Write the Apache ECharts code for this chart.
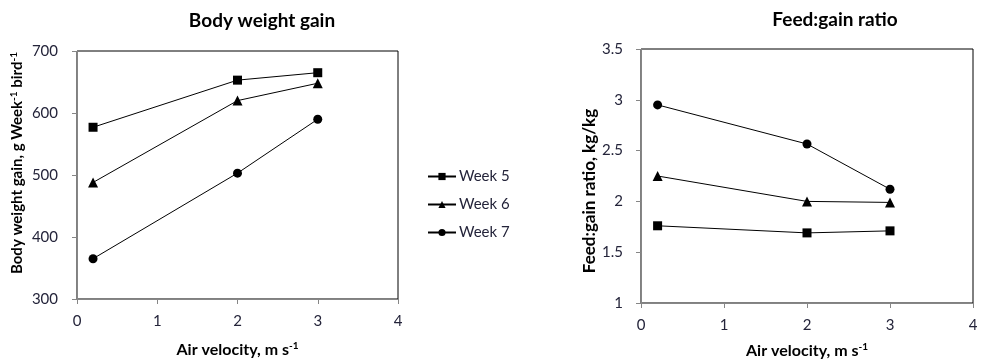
<!DOCTYPE html>
<html>
<head>
<meta charset="utf-8">
<script src="https://cdn.jsdelivr.net/npm/echarts@6/dist/echarts.min.js"></script>
<style>
  html, body { margin: 0; padding: 0; background: #fff; }
  #chart { width: 982px; height: 364px; }
</style>
</head>
<body>
<div id="chart"></div>
<script>
var velocity = [0.2, 2, 3];
var weightWeek5 = [577, 653, 665];
var weightWeek6 = [488, 620, 648];
var weightWeek7 = [365, 503, 590];
var ratioWeek5 = [1.76, 1.69, 1.71];
var ratioWeek6 = [2.25, 2.0, 1.99];
var ratioWeek7 = [2.95, 2.565, 2.12];
var weekNames = ['Week 5', 'Week 6', 'Week 7'];
var symbols = ['rect', 'triangle', 'circle'];
var symbolSizes = [9, 10, 9];

var fontName = 'Lato';
var textColor = '#24243a';

function pairs(ys) {
    var out = [];
    for (var i = 0; i < velocity.length; i++) {
        out.push([velocity[i], ys[i]]);
    }
    return out;
}

function makeSeries(name, ys, k, idx) {
    return {
        name: name,
        type: 'line',
        xAxisIndex: idx,
        yAxisIndex: idx,
        data: pairs(ys),
        symbol: symbols[k],
        symbolSize: symbolSizes[k],
        lineStyle: {color: '#000', width: 1},
        itemStyle: {color: '#000'},
        z: 3
    };
}

var supRich = {
    sup: {fontSize: 10, fontWeight: 'bold', fontFamily: fontName, color: '#000', verticalAlign: 'top', padding: [0, 0, 7, 0]}
};

function xAxisOpt(idx, gap) {
    return {
        type: 'value',
        gridIndex: idx,
        min: 0,
        max: 4,
        interval: 1,
        name: 'Air velocity, m s{sup|-1}',
        nameLocation: 'middle',
        nameGap: gap,
        nameTextStyle: {fontFamily: fontName, fontWeight: 'bold', fontSize: 16, color: '#000', rich: supRich},
        axisLine: {lineStyle: {color: '#868686'}},
        axisTick: {length: 5, lineStyle: {color: '#868686'}},
        axisLabel: {fontFamily: fontName, fontSize: 15, color: textColor, margin: 15},
        splitLine: {show: false}
    };
}

var option = {
    animation: false,
    title: [
        {text: 'Body weight gain', left: 257, top: 6, textAlign: 'center',
         textStyle: {fontFamily: fontName, fontWeight: 'bold', fontSize: 19, color: '#000'}},
        {text: 'Feed:gain ratio', left: 830, top: 5, textAlign: 'center',
         textStyle: {fontFamily: fontName, fontWeight: 'bold', fontSize: 19, color: '#000'}}
    ],
    legend: {
        data: weekNames,
        orient: 'vertical',
        left: 422,
        top: 164,
        itemWidth: 28,
        itemHeight: 9,
        itemGap: 13,
        textStyle: {fontFamily: fontName, fontSize: 15, color: textColor, padding: [0, 0, 0, -2]}
    },
    grid: [
        {left: 77, right: 584, top: 51, bottom: 65, show: true, borderColor: '#000', borderWidth: 1},
        {left: 641, right: 9, top: 49, bottom: 61, show: true, borderColor: '#000', borderWidth: 1}
    ],
    xAxis: [xAxisOpt(0, 42), xAxisOpt(1, 39)],
    yAxis: [
        {
            type: 'value',
            gridIndex: 0,
            min: 300,
            max: 700,
            interval: 100,
            name: 'Body weight gain, g Week{sup|-1} bird{sup|-1}',
            nameLocation: 'middle',
            nameGap: 51,
            nameTextStyle: {fontFamily: fontName, fontWeight: 'bold', fontSize: 15, color: '#000', rich: supRich, padding: [0, 0, 0, 24]},
            axisLine: {show: true, lineStyle: {color: '#868686'}},
            axisTick: {show: true, length: 5, lineStyle: {color: '#868686'}},
            axisLabel: {fontFamily: fontName, fontSize: 15, color: textColor, margin: 19},
            splitLine: {show: false}
        },
        {
            type: 'value',
            gridIndex: 1,
            min: 1,
            max: 3.5,
            interval: 0.5,
            name: 'Feed:gain ratio, kg/kg',
            nameLocation: 'middle',
            nameGap: 35,
            nameTextStyle: {fontFamily: fontName, fontWeight: 'bold', fontSize: 17, color: '#000', padding: [0, 30, 0, 0]},
            axisLine: {show: true, lineStyle: {color: '#868686'}},
            axisTick: {show: true, length: 5, lineStyle: {color: '#868686'}},
            axisLabel: {fontFamily: fontName, fontSize: 15, color: textColor, margin: 18},
            splitLine: {show: false}
        }
    ],
    series: [
        makeSeries(weekNames[0], weightWeek5, 0, 0),
        makeSeries(weekNames[1], weightWeek6, 1, 0),
        makeSeries(weekNames[2], weightWeek7, 2, 0),
        makeSeries(weekNames[0], ratioWeek5, 0, 1),
        makeSeries(weekNames[1], ratioWeek6, 1, 1),
        makeSeries(weekNames[2], ratioWeek7, 2, 1)
    ]
};

var myChart = echarts.init(document.getElementById('chart'));
myChart.setOption(option);
</script>
</body>
</html>
